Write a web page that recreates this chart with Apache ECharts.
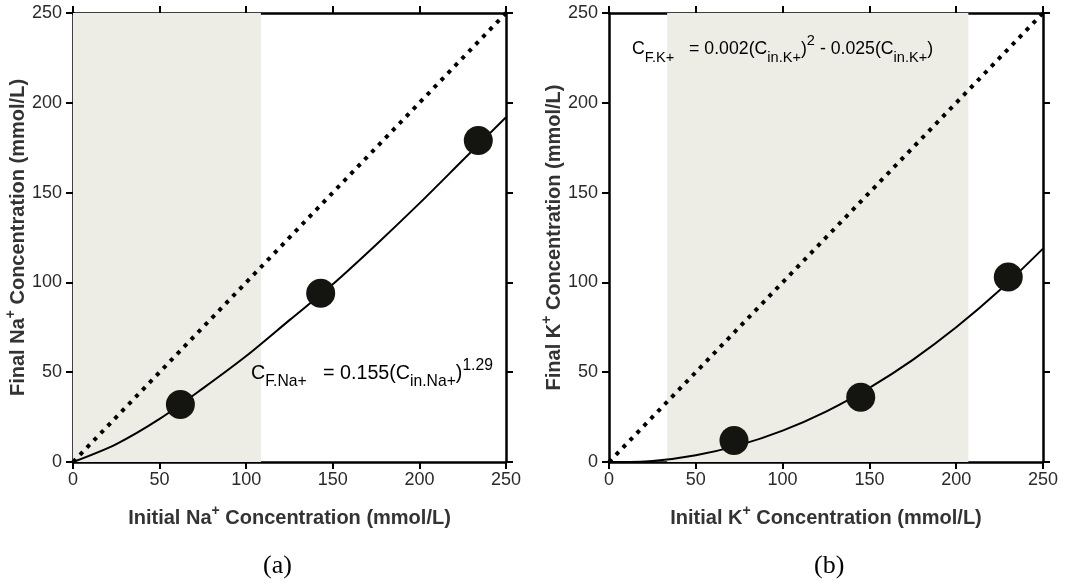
<!DOCTYPE html>
<html>
<head>
<meta charset="utf-8">
<script src="https://cdn.jsdelivr.net/npm/echarts@6/dist/echarts.min.js"></script>
<style>
  html, body { margin: 0; padding: 0; background: #fff; }
  #main { width: 1082px; height: 584px; }
</style>
</head>
<body>
<div id="main"></div>
<script>
    // measured points
    var naInitial = [62, 143, 234];
    var naFinal = [32, 94, 179];
    var kInitial = [72, 145, 230];
    var kFinal = [12, 36, 103];
    // fitted curves
    var fitX = [0, 25, 50, 75, 100, 125, 150, 175, 200, 225, 250];
    var naFit = [0, 10, 24, 41, 59, 79, 99, 121, 144, 168, 192];
    var kFit = [0, 0.6, 3.8, 9.4, 17.5, 28.1, 41.3, 56.9, 75, 95.6, 118.8];
    // 1:1 reference line
    var identity = [0, 250];
    // shaded ranges of initial concentration
    var naShade = [0, 108.5];
    var kShade = [33.5, 207];
    var axisTicks = [0, 50, 100, 150, 200, 250];

    var myChart = echarts.init(document.getElementById('main'));
    var font = 'Liberation Sans, Arial, Helvetica, sans-serif';
    var ink = '#000';
    var labelColor = '#2a2a2a';

    function pairs(xs, ys) {
        return xs.map(function (x, i) { return [x, ys[i]]; });
    }

    function mainAxis(type, pos, idx, title) {
        return {
            type: 'value',
            gridIndex: idx,
            position: pos,
            min: axisTicks[0],
            max: axisTicks[axisTicks.length - 1],
            interval: 50,
            axisLine: { show: true, onZero: false, lineStyle: { color: ink, width: 2.5 } },
            axisTick: { show: true, inside: false, length: 7, lineStyle: { color: ink, width: 2 } },
            splitLine: { show: false },
            axisLabel: { show: true, color: labelColor, fontSize: 18, fontFamily: font, margin: type === 'x' ? 9 : 11 },
            name: title,
            nameLocation: 'middle',
            nameGap: type === 'x' ? 42 : 43,
            nameTextStyle: {
                rich: {
                    b: { fontSize: 20, fontWeight: 'bold', color: '#333', fontFamily: font, lineHeight: 24, verticalAlign: 'bottom' },
                    s: { fontSize: 14, fontWeight: 'bold', color: '#333', fontFamily: font, lineHeight: 24, verticalAlign: 'top' }
                }
            }
        };
    }

    function frameAxis(pos, idx) {
        return {
            type: 'value',
            gridIndex: idx,
            position: pos,
            min: 0,
            max: 250,
            interval: 50,
            axisLine: { show: true, onZero: false, lineStyle: { color: ink, width: 2.5 } },
            axisTick: { show: true, inside: false, length: 7, lineStyle: { color: ink, width: 2 } },
            axisLabel: { show: false },
            splitLine: { show: false }
        };
    }

    var dotStyle = { color: ink, width: 4, type: [4, 6], cap: 'butt' };

    function panelSeries(axisIdx, xs, ys, fit, shade) {
        return [{
            type: 'line',
            xAxisIndex: axisIdx,
            yAxisIndex: axisIdx,
            data: pairs(fitX, fit),
            smooth: 0.3,
            showSymbol: false,
            lineStyle: { color: ink, width: 2 },
            z: 3,
            silent: true,
            markArea: {
                silent: true,
                itemStyle: { color: '#edece5' },
                data: [[{ xAxis: shade[0] }, { xAxis: shade[1] }]]
            }
        }, {
            type: 'line',
            xAxisIndex: axisIdx,
            yAxisIndex: axisIdx,
            data: pairs(identity, identity),
            showSymbol: false,
            lineStyle: dotStyle,
            z: 4,
            silent: true
        }, {
            type: 'scatter',
            xAxisIndex: axisIdx,
            yAxisIndex: axisIdx,
            data: pairs(xs, ys),
            symbol: 'circle',
            symbolSize: 29,
            itemStyle: { color: '#141410', opacity: 1 },
            z: 5
        }];
    }

    function eqRich(main, small) {
        return {
            m: { fontSize: main, fontFamily: font, color: '#111', lineHeight: 32, verticalAlign: 'middle' },
            sub: { fontSize: small, fontFamily: font, color: '#111', lineHeight: 15, verticalAlign: 'bottom' },
            sup: { fontSize: small, fontFamily: font, color: '#111', lineHeight: 15, verticalAlign: 'top' }
        };
    }
    var captionFont = '26px "Liberation Serif", "Times New Roman", serif';

    var option = {
        backgroundColor: '#fff',
        animation: false,
        grid: [
            { left: 73, width: 433, top: 13, height: 449, containLabel: false },
            { left: 609, width: 434, top: 13, height: 449, containLabel: false }
        ],
        xAxis: [
            mainAxis('x', 'bottom', 0, '{b|Initial Na}{s|+}{b| Concentration (mmol/L)}'),
            frameAxis('top', 0),
            mainAxis('x', 'bottom', 1, '{b|Initial K}{s|+}{b| Concentration (mmol/L)}'),
            frameAxis('top', 1)
        ],
        yAxis: [
            mainAxis('y', 'left', 0, '{b|Final Na}{s|+}{b| Concentration (mmol/L)}'),
            frameAxis('right', 0),
            mainAxis('y', 'left', 1, '{b|Final K}{s|+}{b| Concentration (mmol/L)}'),
            frameAxis('right', 1)
        ],
        graphic: [{
            type: 'text',
            left: 251,
            top: 358,
            z: 10,
            style: {
                text: '{m|C}{sub|F.Na+}{m|   = 0.155(C}{sub|in.Na+}{m|)}{sup|1.29}',
                rich: eqRich(19.7, 15.7)
            }
        }, {
            type: 'text',
            left: 632,
            top: 33,
            z: 10,
            style: {
                text: '{m|C}{sub|F.K+}{m|   = 0.002(C}{sub|in.K+}{m|)}{sup|2}{m| - 0.025(C}{sub|in.K+}{m|)}',
                rich: eqRich(17.7, 14.6)
            }
        }, {
            type: 'text',
            x: 263,
            top: 553,
            style: { text: '(a)', font: captionFont, fill: '#000' }
        }, {
            type: 'text',
            x: 814,
            top: 553,
            style: { text: '(b)', font: captionFont, fill: '#000' }
        }],
        series: panelSeries(0, naInitial, naFinal, naFit, naShade)
            .concat(panelSeries(2, kInitial, kFinal, kFit, kShade))
    };
    myChart.setOption(option);
</script>
</body>
</html>
